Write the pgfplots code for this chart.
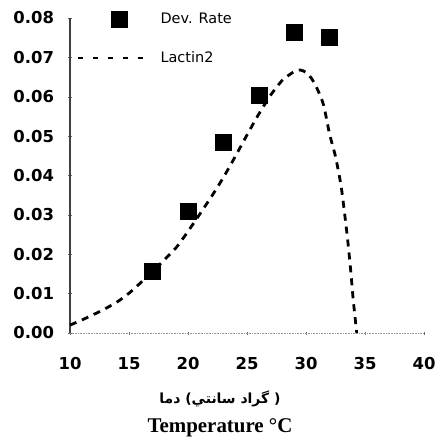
\documentclass[border=0pt]{standalone}
\usepackage{fontspec}
\usepackage{pgfplots}
\pgfplotsset{compat=1.18}
\setmainfont{DejaVu Sans}
\newfontfamily\persianfont[Script=Arabic]{DejaVu Sans}
\newfontfamily\serifb{Liberation Serif}
\pgfplotsset{
  markleg/.style={legend image code/.code={\draw[mark repeat=2,mark phase=2,##1] plot coordinates {(0bp,0bp) (41bp,0bp) (68bp,0bp)};}},
  lineleg/.style={legend image code/.code={\draw[##1, line width=2.3bp, dash pattern=on 5bp off 10bp] (0bp,0bp) -- (68bp,0bp);}},
}
\begin{document}
\begin{tikzpicture}
\begin{axis}[
  scale only axis,
  width=354bp, height=315bp,
  xmin=10, xmax=40, ymin=0, ymax=0.08,
  axis x line=bottom, axis y line=left,
  x axis line style={-, densely dotted, gray!80, line width=0.6bp},
  y axis line style={-, black!75, line width=1.1bp},
  xtick={10,15,...,40},
  ytick={0,0.01,...,0.08},
  major tick length=3bp,
  tick style={black!60, line width=0.5bp},
  /pgf/number format/assume math mode=true,
  yticklabel style={/pgf/number format/fixed, /pgf/number format/fixed zerofill, /pgf/number format/precision=2, font=\fontsize{16.5}{16.5}\selectfont\bfseries, xshift=-11bp},
  xticklabel style={font=\fontsize{16.5}{16.5}\selectfont\bfseries, yshift=-19bp},
  scaled y ticks=false,
  xlabel={{\fontsize{14}{14}\selectfont\bfseries{\persianfont دما} (\kern0pt{\persianfont سانتي} {\persianfont گراد} )}\\[10bp]{\fontsize{21}{21}\selectfont\bfseries\serifb Temperature °C}},
  xlabel style={align=center, yshift=-15bp, xshift=-27bp},
  clip=false,
  legend style={draw=none, fill=none, at={(rel axis cs:0.02,0.935)}, anchor=west, inner sep=0pt,
    font=\fontsize{14.5}{14.5}\selectfont, row sep=23bp, cells={anchor=west},
    nodes={inner xsep=13bp}},
]
\addplot[only marks, mark=square*, mark size=8bp, black, markleg]
  coordinates {(17,0.0157) (20,0.0310) (23,0.0485) (26,0.0603) (29,0.0764) (32,0.0751)};
\addlegendentry{Dev. Rate}
\addplot[black, line width=2.8bp, dash pattern=on 7bp off 6bp, smooth, tension=0.4, lineleg]
  coordinates {
(10.0,0.0020) (11.0,0.0033) (12.0,0.0047) (13.0,0.0062) (14.0,0.0079) (15.0,0.0101)
(16.0,0.0128) (17.0,0.0156) (18.0,0.0186) (19.0,0.0217) (20.0,0.0258) (21.0,0.0302)
(22.0,0.0347) (23.0,0.0395) (24.0,0.0448) (25.0,0.0503) (26.0,0.0556) (27.0,0.0604)
(28.0,0.0642) (29.0,0.0664) (29.5,0.0668) (30.0,0.0662) (30.5,0.0645) (31.0,0.0617)
(31.5,0.0578) (32.0,0.0505) (32.5,0.0448) (33.0,0.0368) (33.5,0.0245) (33.8,0.0155)
(34.0,0.0085) (34.3,0.0000)};
\addlegendentry{Lactin2}
\end{axis}
\pgfresetboundingbox
\path (-70bp,-106bp) rectangle (367bp,333bp);
\end{tikzpicture}
\end{document}
